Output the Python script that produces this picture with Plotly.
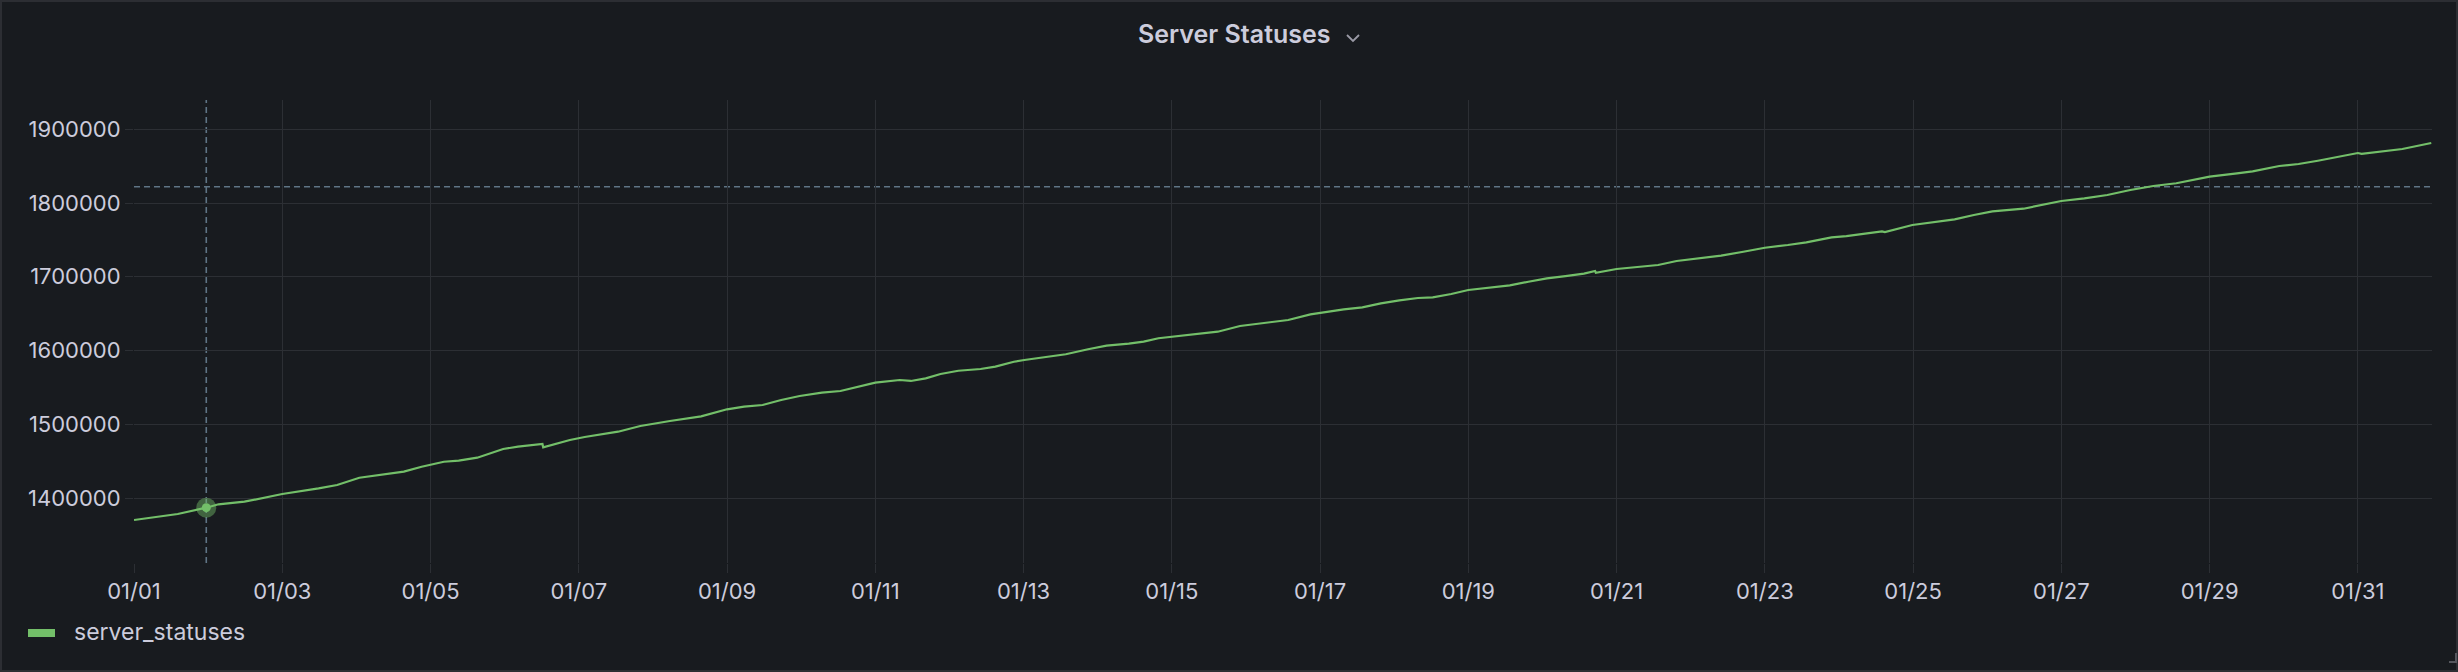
import pandas as pd
import plotly.graph_objects as go

# ---- data ----
start_date = "2024-01-01"
day_offsets = [0.00, 0.59, 0.975, 1.14, 1.49, 1.74, 2.00, 2.49, 2.74, 3.04, 3.44, 3.64, 3.88,
               4.18, 4.38, 4.63, 4.98, 5.18, 5.51, 5.52, 5.88, 6.08, 6.53, 6.83, 7.23, 7.65,
               8.00, 8.23, 8.48, 8.73, 8.98, 9.28, 9.53, 9.78, 10.00, 10.33, 10.48, 10.68,
               10.88, 11.12, 11.42, 11.62, 11.87, 12.01, 12.32, 12.57, 12.87, 13.12, 13.42,
               13.62, 13.82, 14.00, 14.32, 14.62, 14.92, 15.35, 15.57, 15.87, 16.00, 16.32,
               16.57, 16.82, 17.07, 17.32, 17.52, 17.77, 18.00, 18.32, 18.56, 18.81, 19.06,
               19.31, 19.56, 19.71, 19.72, 20.00, 20.31, 20.56, 20.81, 21.11, 21.41, 21.71,
               22.00, 22.31, 22.56, 22.90, 23.10, 23.58, 23.62, 23.99, 24.30, 24.56, 24.82,
               25.07, 25.49, 25.74, 26.00, 26.31, 26.62, 26.93, 27.24, 27.55, 27.81, 28.00,
               28.37, 28.58, 28.94, 29.20, 29.46, 29.72, 30.00, 30.05, 30.34, 30.60, 30.99]
server_statuses = [1370170, 1378300, 1386850, 1391450, 1395000, 1400400, 1405400, 1413100,
                   1417600, 1427500, 1432500, 1435700, 1442450, 1449200, 1450600, 1454650,
                   1466450, 1469600, 1473200, 1468700, 1478650, 1482700, 1489900, 1497600,
                   1504400, 1510700, 1520280, 1523800, 1526100, 1532900, 1538300, 1542800,
                   1545100, 1550950, 1556400, 1560000, 1558700, 1562300, 1568200, 1572600,
                   1574900, 1578100, 1584800, 1587150, 1591600, 1594900, 1601700, 1606600,
                   1609300, 1612000, 1616600, 1618800, 1622400, 1625500, 1633300, 1639100,
                   1641400, 1649100, 1651300, 1655900, 1658600, 1664000, 1668100, 1671200,
                   1672200, 1676600, 1682100, 1686100, 1688400, 1693300, 1697900, 1701000,
                   1704200, 1707800, 1705500, 1710500, 1713300, 1716000, 1721400, 1725500,
                   1728600, 1734000, 1739400, 1743100, 1746700, 1753500, 1755100, 1761500,
                   1760500, 1770200, 1774700, 1777900, 1783800, 1788700, 1792300, 1797300,
                   1802800, 1806400, 1810900, 1817700, 1823100, 1826800, 1832200, 1835700,
                   1840300, 1843000, 1850200, 1852900, 1857400, 1862000, 1867800, 1866800,
                   1870500, 1873300, 1881400]
series_name = "server_statuses"
title_text = "Server Statuses"

# hover / crosshair state
hover_day = [0.975]
hover_value = [1386850]
crosshair_value = 1822160

x_range_days = [0, 31]
y_range = [1311850, 1939730]

# ---- styles ----
W, H = 2458, 672
ML, MR, MT, MB = 134, 26, 100, 109
PW, PH = W - ML - MR, H - MT - MB
BG = "#181b1f"
GRID = "#2c2f34"
TXT = "#ccccdc"
GREEN = "#73BF69"
CROSS = "#5f7585"
FONT = "Inter"


def px(x):
    return (x - ML) / PW


def py(y):
    return (H - MB - y) / PH


t0 = pd.Timestamp(start_date)
times = t0 + pd.to_timedelta(day_offsets, unit="D")
hover_times = t0 + pd.to_timedelta(hover_day, unit="D")
x_range = list(t0 + pd.to_timedelta(x_range_days, unit="D"))

fig = go.Figure()
fig.add_trace(go.Scatter(x=times, y=server_statuses, mode="lines", name=series_name,
                         line=dict(color=GREEN, width=2.2), showlegend=False,
                         hoverinfo="skip"))
fig.add_trace(go.Scatter(x=hover_times, y=hover_value, mode="markers", showlegend=False,
                         marker=dict(size=20, color="rgba(115,191,105,0.45)"),
                         hoverinfo="skip"))
fig.add_trace(go.Scatter(x=hover_times, y=hover_value, mode="markers", showlegend=False,
                         marker=dict(size=9, color=GREEN), hoverinfo="skip"))

shapes = [
    # crosshair
    dict(type="line", xref="x", yref="paper", x0=hover_times[0], x1=hover_times[0], y0=0, y1=1,
         line=dict(color=CROSS, width=1.6, dash="6px,4px"), layer="below"),
    dict(type="line", xref="paper", yref="y", x0=0, x1=1, y0=crosshair_value, y1=crosshair_value,
         line=dict(color=CROSS, width=1.6, dash="6px,4px"), layer="below"),
    # panel border
    dict(type="rect", xref="paper", yref="paper", x0=px(1), x1=px(W - 1), y0=py(H - 1), y1=py(1),
         line=dict(color="#2c2e33", width=2)),
    # resize handle
    dict(type="path", xref="paper", yref="paper",
         path=f"M {px(2456)} {py(653)} L {px(2456)} {py(662)} L {px(2449)} {py(662)}",
         line=dict(color="#55575e", width=2)),
    # legend swatch
    dict(type="rect", xref="paper", yref="paper", x0=px(28), x1=px(55), y0=py(637), y1=py(629),
         fillcolor=GREEN, line=dict(width=0)),
    # title chevron
    dict(type="path", xref="paper", yref="paper",
         path=f"M {px(1347)} {py(35)} L {px(1353)} {py(41)} L {px(1359)} {py(35)}",
         line=dict(color="#9a9aa6", width=1.8)),
]

annotations = [
    dict(text=title_text, xref="paper", yref="paper", x=px(1234), y=py(34), showarrow=False,
         xanchor="center", yanchor="middle", font=dict(family=FONT, size=25, color=TXT, weight=600)),
    dict(text=series_name, xref="paper", yref="paper", x=px(72), y=py(632), showarrow=False,
         xanchor="left", yanchor="middle", font=dict(family=FONT, size=23, color=TXT)),
]

fig.update_layout(
    width=W, height=H,
    margin=dict(l=ML, r=MR, t=MT, b=MB),
    paper_bgcolor=BG, plot_bgcolor=BG,
    shapes=shapes, annotations=annotations,
    font=dict(family=FONT, color=TXT, size=22),
    xaxis=dict(type="date", range=x_range, tickformat="%m/%d", dtick=2 * 86400000,
               tick0=t0, showgrid=True, gridcolor=GRID, gridwidth=1, zeroline=False,
               showline=False, ticks="outside", ticklen=9, tickcolor=GRID,
               tickfont=dict(family=FONT, size=22, color=TXT)),
    yaxis=dict(range=y_range, dtick=100000, tick0=0, tickformat="d", showgrid=True,
               gridcolor=GRID, gridwidth=1, zeroline=False, showline=False,
               ticks="outside", ticklen=8, tickcolor=GRID,
               tickfont=dict(family=FONT, size=22, color=TXT)),
    showlegend=False,
)

fig.write_html("out.html")
